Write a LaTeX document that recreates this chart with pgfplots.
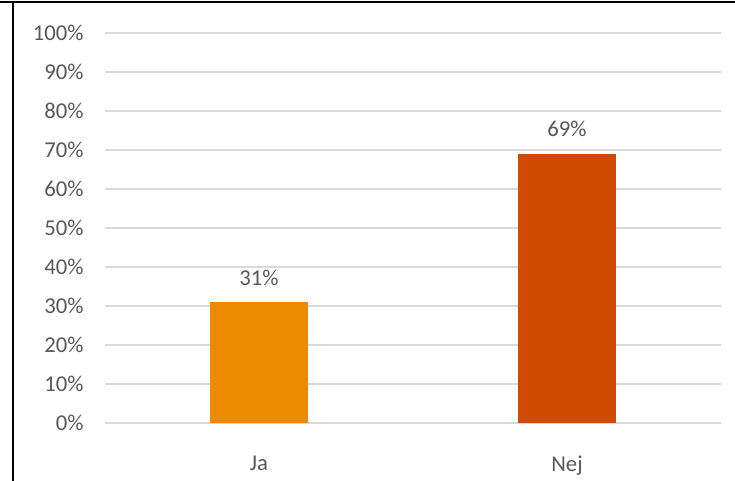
\documentclass[border=0pt]{standalone}
\usepackage{fontspec}
\setmainfont{Carlito}
\usepackage{pgfplots}
\pgfplotsset{compat=1.18}
\definecolor{jaC}{RGB}{237,139,0}
\definecolor{nejC}{RGB}{208,75,0}
\definecolor{gridC}{RGB}{217,217,217}
\definecolor{txtC}{RGB}{89,89,89}
\begin{document}
\begin{tikzpicture}[x=0.75pt,y=0.75pt]
\useasboundingbox (0,0) rectangle (735,481);
\fill[white] (0,0) rectangle (735,481);
\begin{axis}[
  at={(105*0.75pt,58*0.75pt)}, anchor=south west,
  scale only axis, width=616*0.75pt, height=390*0.75pt,
  xmin=-0.5, xmax=1.5, ymin=0, ymax=100,
  xtick={0,1}, xticklabels={Ja,Nej},
  ytick={0,10,...,100},
  yticklabel={\pgfmathprintnumber{\tick}\%},
  /pgf/number format/assume math mode=true,
  axis line style={draw=none},
  major tick length=0pt,
  ymajorgrids, grid style={gridC, line width=0.9pt},
  tick label style={font=\fontsize{17}{20}\selectfont, text=txtC},
  yticklabel style={xshift=-12.5pt},
  xticklabel style={yshift=-21pt},
  ybar, bar width=73.5pt, bar shift=0pt,
  nodes near coords={\pgfmathprintnumber{\pgfplotspointmeta}\%},
  nodes near coords style={font=\fontsize{17}{20}\selectfont, text=txtC, yshift=9pt},
  clip=false,
]
\addplot[fill=jaC, draw=none] coordinates {(0,31)};
\addplot[fill=nejC, draw=none] coordinates {(1,69)};
\end{axis}
\draw[black, line width=1.5pt] (0,479) -- (735,479);
\draw[black, line width=1.5pt] (13,0) -- (13,479.5);
\end{tikzpicture}
\end{document}
